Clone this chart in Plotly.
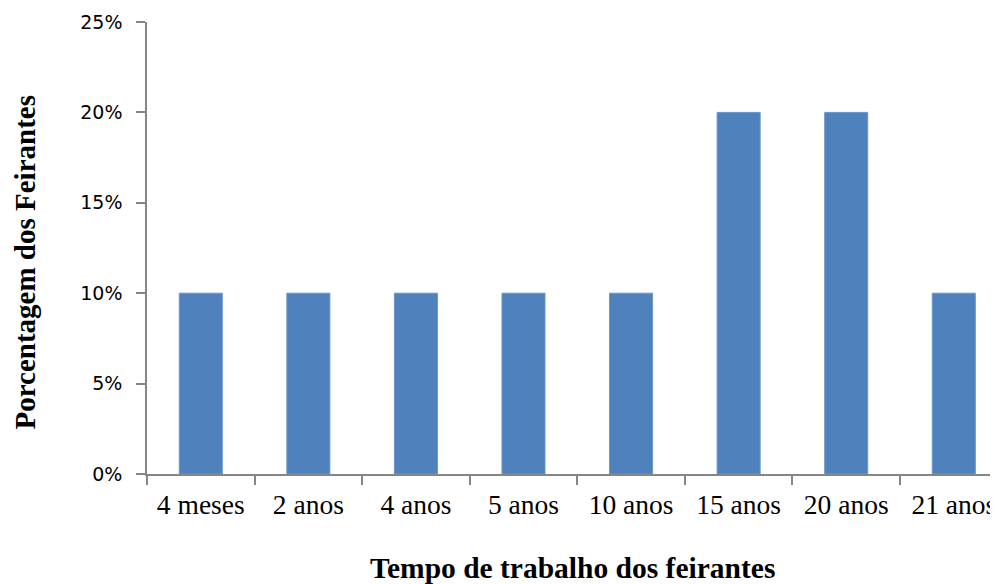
import plotly.graph_objects as go

categories = ["4 meses", "2 anos", "4 anos", "5 anos", "10 anos", "15 anos", "20 anos", "21 anos"]
percentages = [0.10, 0.10, 0.10, 0.10, 0.10, 0.20, 0.20, 0.10]
y_ticks = [0, 0.05, 0.10, 0.15, 0.20, 0.25]
y_tick_labels = ["0%", "5%", "10%", "15%", "20%", "25%"]

# page body has an 8px margin; compensate so the chart lands where the reference has it
OFF = 8
W, H = 998 - OFF, 584 - OFF
ML, MR, MT, MB = 147 - OFF, 0, 22 - OFF, 110
PW = W - ML - MR
PH = H - MT - MB

fig = go.Figure()
fig.add_trace(go.Bar(
    x=categories, y=percentages,
    marker=dict(color="#4F81BD", line=dict(color="#6A95CB", width=1)),
    width=0.4,
))

fig.update_layout(
    width=W, height=H,
    margin=dict(l=ML, r=MR, t=MT, b=MB),
    paper_bgcolor="white", plot_bgcolor="white",
    showlegend=False,
    xaxis=dict(
        type="category",
        range=[-0.5, -0.5 + PW / 107.57],
        showline=True, linecolor="#868686", linewidth=1.5,
        ticks="outside", tickson="boundaries", ticklen=9, tickcolor="#868686", tickwidth=1.5,
        showgrid=False, zeroline=False,
        tickfont=dict(family="Liberation Serif", size=27.5, color="black"),
        ticklabelstandoff=5,
    ),
    yaxis=dict(
        range=[0, 0.25],
        tickvals=y_ticks, ticktext=y_tick_labels,
        showline=True, linecolor="#868686", linewidth=1.5,
        ticks="outside", ticklen=9, tickcolor="#868686", tickwidth=1.5,
        showgrid=False, zeroline=False,
        tickfont=dict(family="DejaVu Sans", size=19, color="black"),
        ticklabelstandoff=10,
    ),
    annotations=[
        dict(text="<b>Tempo de trabalho dos feirantes</b>", xref="paper", yref="paper",
             x=0.5, y=-(568 - OFF - (MT + PH)) / PH, xanchor="center", yanchor="middle",
             showarrow=False, font=dict(family="Liberation Serif", size=29.5, color="black")),
        dict(text="<b>Porcentagem dos Feirantes</b>", xref="paper", yref="paper",
             x=(25 - OFF - ML) / PW, y=((MT + PH) - (262.5 - OFF)) / PH,
             xanchor="center", yanchor="middle",
             textangle=-90, showarrow=False,
             font=dict(family="Liberation Serif", size=29, color="black")),
    ],
)

fig.write_html("out.html")
